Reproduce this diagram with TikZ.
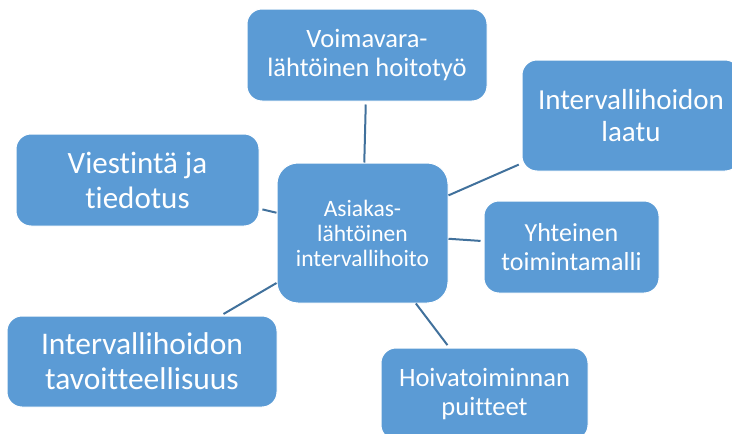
\documentclass[tikz,border=0pt]{standalone}
\usepackage{fontspec}
\setmainfont{Carlito}[Ligatures=NoCommon]
\definecolor{boxblue}{HTML}{5B9BD5}
\definecolor{linkblue}{HTML}{41719C}
\tikzset{
  box/.style={rectangle, rounded corners=15pt, fill=boxblue, draw=white, line width=1pt,
    text=white, align=center, inner sep=0pt},
  link/.style={draw=linkblue, line width=2pt, shorten >=3pt},
}
\begin{document}
\begin{tikzpicture}[x=1pt,y=-1pt]
\useasboundingbox (0,0) rectangle (732,434);
\clip (0,0) rectangle (732,434);
\node[box, rounded corners=21pt, minimum width=171pt, minimum height=140pt,
  font=\fontsize{23.5}{25}\selectfont] (c) at (362.5,233) {Asiakas-\\lähtöinen\\intervallihoito};
\node[box, minimum width=240pt, minimum height=92pt,
  font=\fontsize{26.5}{29}\selectfont] (t) at (367,55) {Voimavara-\\lähtöinen hoitotyö};
\node[box, minimum width=218pt, minimum height=111pt,
  font=\fontsize{29}{32}\selectfont] (tr) at (631,115.5) {Intervallihoidon\\laatu};
\node[box, minimum width=243pt, minimum height=92pt,
  font=\fontsize{31}{35}\selectfont] (l) at (137.5,180) {Viestintä ja\\tiedotus};
\node[box, minimum width=175pt, minimum height=92pt,
  font=\fontsize{26}{29}\selectfont] (r) at (571.5,247) {Yhteinen\\toimintamalli};
\node[box, minimum width=270pt, minimum height=91pt,
  font=\fontsize{31.5}{35}\selectfont] (bl) at (142,361.5) {Intervallihoidon\\tavoitteellisuus};
\node[box, minimum width=207pt, minimum height=92pt,
  font=\fontsize{26.5}{29}\selectfont] (b) at (484.5,394) {Hoivatoiminnan\\puitteet};
\draw[link] (c) -- (t);
\draw[link] (c) -- (tr);
\draw[link] (c) -- (l);
\draw[link] (c) -- (r);
\draw[link] (c) -- (bl);
\draw[link] (c) -- (b);
\end{tikzpicture}
\end{document}
